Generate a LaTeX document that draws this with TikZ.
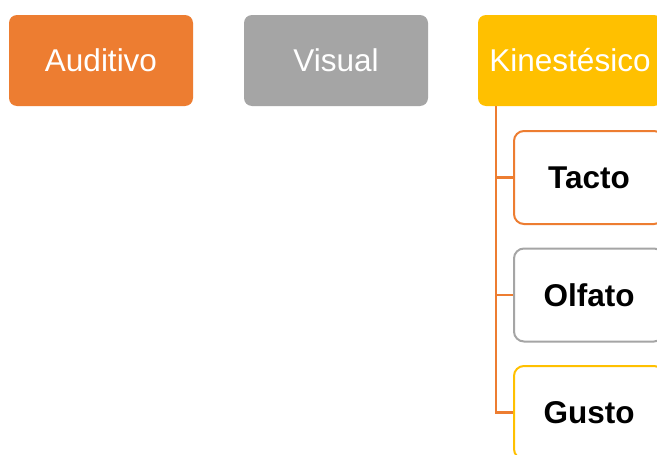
\documentclass[tikz,border=0pt]{standalone}
\usepackage{fontspec}
\setmainfont{Liberation Sans}
\definecolor{cOrange}{HTML}{ED7D31}
\definecolor{cGray}{HTML}{A5A5A5}
\definecolor{cGold}{HTML}{FFC000}
\begin{document}
\begin{tikzpicture}[x=1pt,y=-1pt,
  parent/.style={rectangle,rounded corners=8pt,minimum width=184pt,minimum height=91pt,
    text=white,font=\fontsize{31.5}{36}\selectfont,inner sep=0pt},
  child/.style={rectangle,rounded corners=10pt,minimum width=150pt,minimum height=93pt,
    fill=white,line width=2pt,font=\fontsize{31.5}{36}\selectfont\bfseries,inner sep=0pt},
  conn/.style={draw=cOrange,line width=2.5pt}]
\clip (0,0) rectangle (657,455);
\fill[white] (0,0) rectangle (657,455);
\node[parent,fill=cOrange] (aud) at (101,60.5) {Auditivo};
\node[parent,fill=cGray] (vis) at (336,60.5) {Visual};
\node[parent,fill=cGold] (kin) at (570,60.5) {Kinestésico};
\node[child,draw=cOrange] (tac) at (589,177.5) {Tacto};
\node[child,draw=cGray] (olf) at (589,295) {Olfato};
\node[child,draw=cGold] (gus) at (589,412.5) {Gusto};
\coordinate (top) at ([xshift=18pt]kin.south west);
\draw[conn] (top) |- (tac.west);
\draw[conn] (top) |- (olf.west);
\draw[conn] (top) |- (gus.west);
\end{tikzpicture}
\end{document}
